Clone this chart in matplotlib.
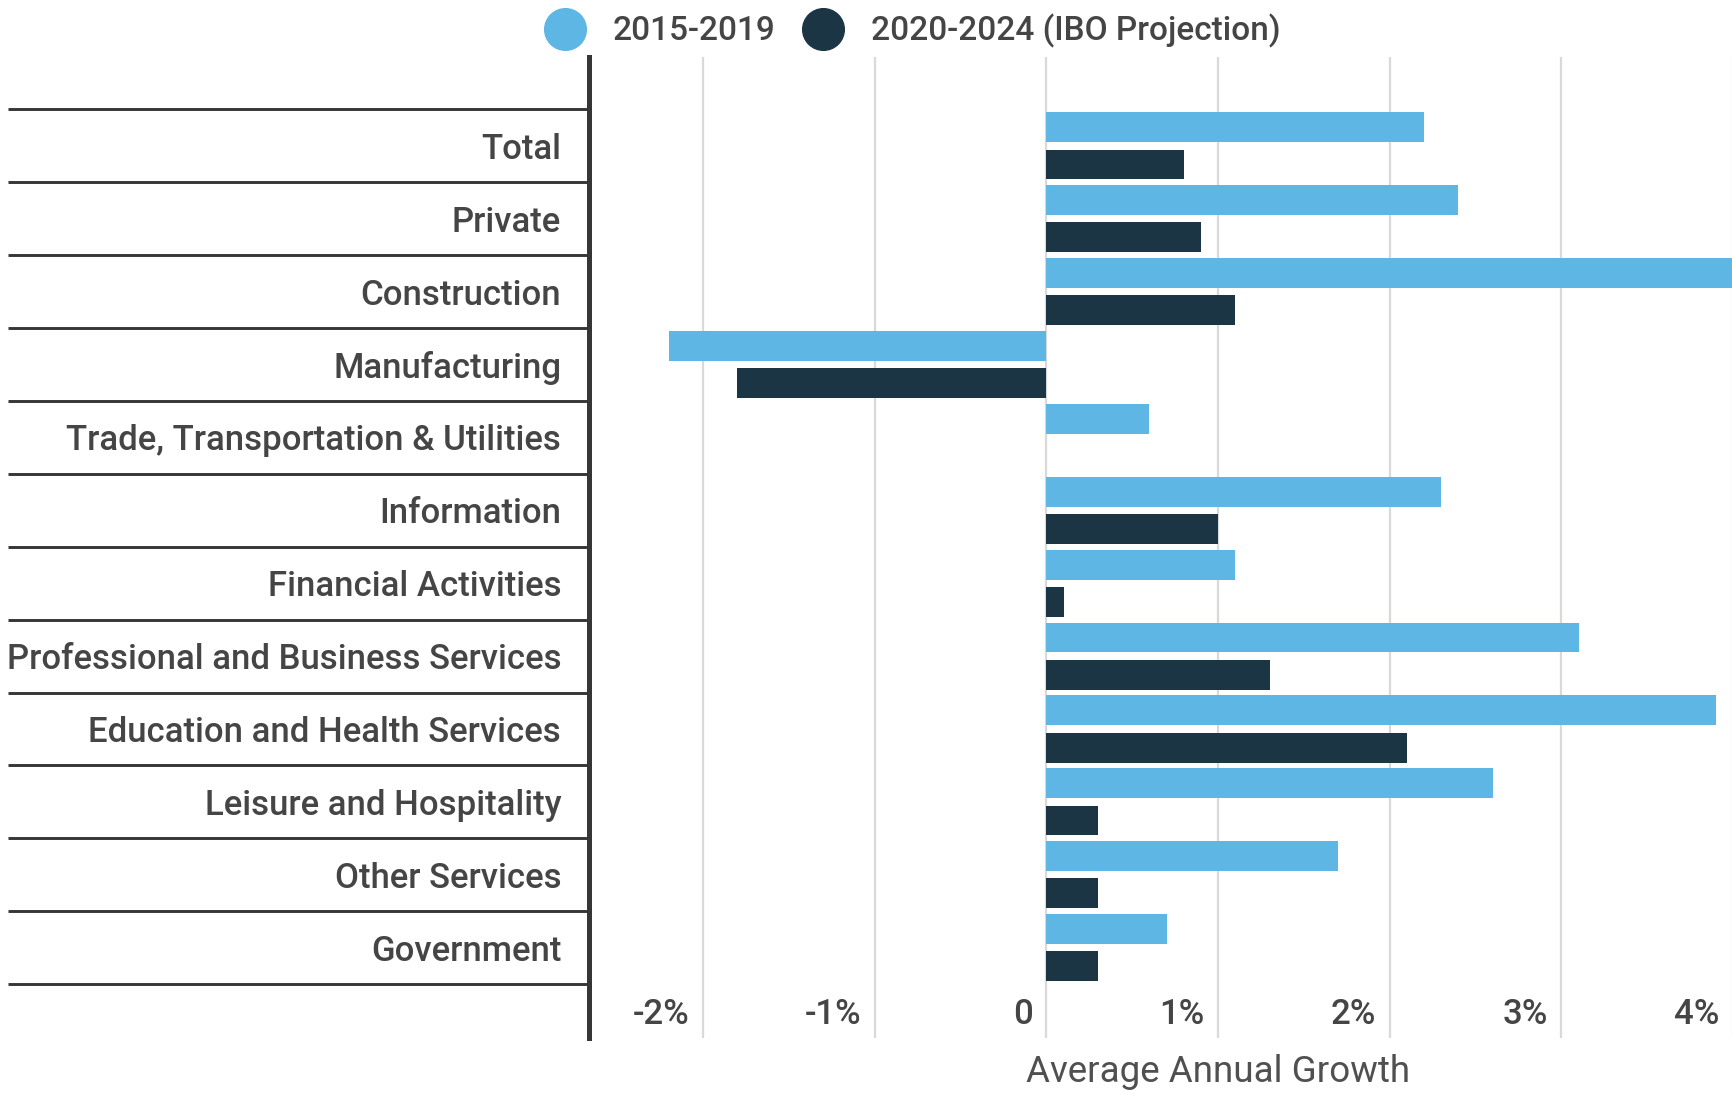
import numpy as np
import matplotlib
matplotlib.use("Agg")
import matplotlib.pyplot as plt
from matplotlib.lines import Line2D

plt.rcParams['font.family'] = ['Roboto', 'DejaVu Sans']

# Average annual employment growth by sector (%)
sectors = ["Total", "Private", "Construction", "Manufacturing",
           "Trade, Transportation & Utilities", "Information",
           "Financial Activities", "Professional and Business Services",
           "Education and Health Services", "Leisure and Hospitality",
           "Other Services", "Government"]
growth_2015_2019 = [2.2, 2.4, 4.6, -2.2, 0.6, 2.3, 1.1, 3.1, 3.9, 2.6, 1.7, 0.7]
growth_2020_2024 = [0.8, 0.9, 1.1, -1.8, 0.0, 1.0, 0.1, 1.3, 2.1, 0.3, 0.3, 0.3]
series_names = ["2015-2019", "2020-2024 (IBO Projection)"]
xticks = [-2, -1, 0, 1, 2, 3, 4]
xtick_labels = ["-2%", "-1%", "0", "1%", "2%", "3%", "4%"]

light = "#5EB6E4"
dark = "#1B3545"
text_c = "#454545"
rule_c = "#363636"

W, H = 1733, 1095
fig = plt.figure(figsize=(W / 100, H / 100), dpi=100)
ax = fig.add_axes([589 / W, 57 / H, 1144 / W, 981 / H])

y = np.arange(len(sectors))
ax.barh(y - 0.255, growth_2015_2019, height=0.41, color=light, zorder=2)
ax.barh(y + 0.255, growth_2020_2024, height=0.41, color=dark, zorder=2)

ax.set_xlim(-2.665, 4.0)
ax.set_ylim(12.24, -1.22)

# vertical gridlines, labels drawn separately inside the plot
ax.set_xticks(xticks)
ax.tick_params(axis="x", length=0, labelbottom=False)
ax.grid(axis="x", color="#d9d9d9", linewidth=1.6, zorder=0)
ax.set_axisbelow(True)

for xv, lab in zip(xticks, xtick_labels):
    ax.text(xv - 0.08, 0.0235, lab, transform=ax.get_xaxis_transform(),
            ha="right", va="center", fontsize=25, color=text_c,
            fontweight="medium")

ax.text(1.0, -0.035, "Average Annual Growth", transform=ax.get_xaxis_transform(),
        ha="center", va="center", fontsize=26.5, color="#505050")

# category labels on the left
ax.set_yticks(y)
ax.set_yticklabels(sectors, fontsize=25, color=text_c, fontweight="medium")
ax.tick_params(axis="y", length=0, pad=20)

# horizontal rules separating categories
for b in np.arange(len(sectors) + 1) - 0.5:
    ax.plot([-0.508, 0], [b, b], transform=ax.get_yaxis_transform(),
            color=rule_c, linewidth=2.1, clip_on=False, solid_capstyle="butt")

for side in ["top", "right", "bottom"]:
    ax.spines[side].set_visible(False)
ax.spines["left"].set_color(rule_c)
ax.spines["left"].set_linewidth(3.6)

handles = [Line2D([], [], marker="o", linestyle="none", markersize=30,
                  markerfacecolor=c, markeredgecolor=c) for c in (light, dark)]
leg = fig.legend(handles, series_names, loc="center", bbox_to_anchor=(0.527, 0.9718),
                 ncol=2, frameon=False, fontsize=24, labelcolor=text_c,
                 handlelength=1.15, handletextpad=0.85, columnspacing=0.85,
                 borderpad=0, borderaxespad=0)
for t in leg.get_texts():
    t.set_fontweight("medium")

fig.savefig("out.png", dpi=100)
